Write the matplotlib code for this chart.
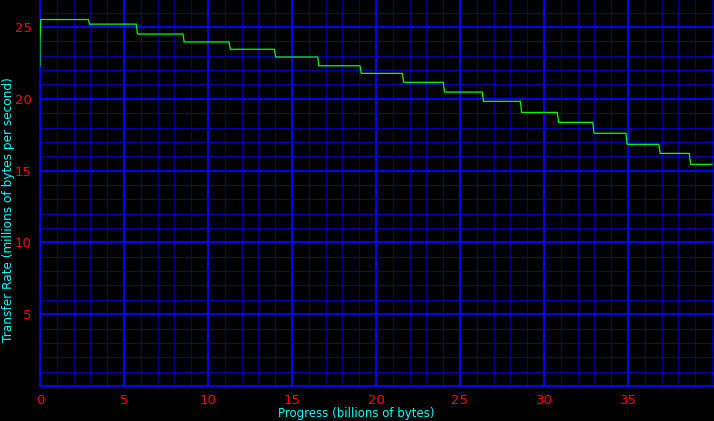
import numpy as np
import matplotlib
matplotlib.use("Agg")
import matplotlib.pyplot as plt
from matplotlib.ticker import MultipleLocator

# plateaus of the transfer rate: start/end in billions of bytes, level in MB/s
seg_start = [0.05, 2.95, 5.80, 8.58, 11.33, 14.03, 16.60, 19.12, 21.65, 24.08,
             26.40, 28.67, 30.87, 32.98, 34.95, 36.92, 38.73]
seg_end = [2.88, 5.73, 8.51, 11.25, 13.95, 16.53, 19.05, 21.57, 24.00, 26.33,
           28.59, 30.79, 32.90, 34.88, 36.83, 38.65, 40.00]
seg_level = [25.52, 25.20, 24.51, 23.96, 23.45, 22.91, 22.30, 21.77, 21.15, 20.47,
             19.82, 19.05, 18.36, 17.60, 16.83, 16.20, 15.44]
start_x = [0.0, 0.0]
start_y = [22.3, 24.0]

xs = list(start_x)
ys = list(start_y)
for a, b, lv in zip(seg_start, seg_end, seg_level):
    xs += [a, b]
    ys += [lv, lv]

fig = plt.figure(figsize=(7.14, 4.21), dpi=100, facecolor="black")
ax = fig.add_axes([40 / 714, 35 / 421, 674 / 714, 386 / 421])
ax.set_facecolor("black")

ax.set_xlim(0, 40.12)
ax.set_ylim(0, 26.88)

ax.xaxis.set_major_locator(MultipleLocator(5))
ax.xaxis.set_minor_locator(MultipleLocator(1))
ax.yaxis.set_major_locator(MultipleLocator(5))
ax.yaxis.set_minor_locator(MultipleLocator(1))

ax.grid(which="minor", axis="x", color="#00008c", linewidth=0.75)
ax.grid(which="minor", axis="y", color="#0000a8", linewidth=0.75)
ax.grid(which="major", color="#0000ff", linewidth=1.45)
ax.set_axisbelow(True)

for side in ["top", "right"]:
    ax.spines[side].set_visible(False)
for side in ["left", "bottom"]:
    ax.spines[side].set_color("#0000ff")
    ax.spines[side].set_linewidth(1.45)

ax.plot(xs, ys, color="#00ff00", linewidth=0.9, zorder=5)

ax.set_xticks([0, 5, 10, 15, 20, 25, 30, 35])
ax.set_yticks([5, 10, 15, 20, 25])
ax.tick_params(which="both", length=0, colors="#ff0000", labelsize=9.5)
ax.tick_params(axis="x", pad=6)
ax.tick_params(axis="y", pad=6)

ax.set_xlabel("Progress (billions of bytes)", color="#00ffff", fontsize=8.5)
ax.set_ylabel("Transfer Rate (millions of bytes per second)", color="#00ffff",
              fontsize=8.7)
ax.xaxis.set_label_coords((356 - 40) / 674, -28 / 386)
ax.xaxis.label.set_va("center")
ax.yaxis.set_label_coords((9 - 40) / 674, (386 - 210) / 386)
ax.yaxis.label.set_va("center")
ax.yaxis.label.set_ha("center")

fig.savefig("out.png", dpi=100, facecolor="black")
